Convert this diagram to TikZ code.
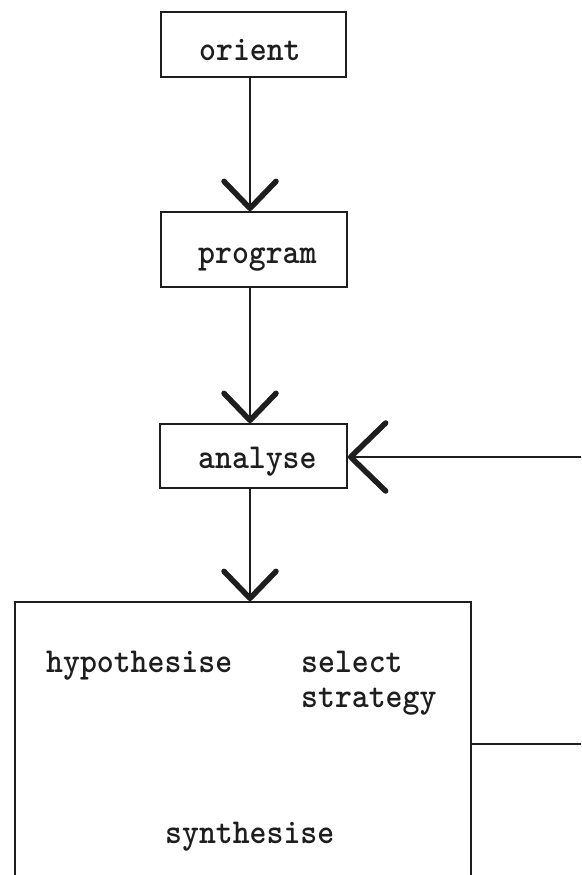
\documentclass[tikz,border=0pt]{standalone}
\usepackage{graphicx}
\usetikzlibrary{arrows.meta}

% typewriter lettering, slightly condensed
\newcommand{\tw}[1]{{\fontsize{35}{42}\selectfont\ttfamily\bfseries\scalebox{0.92}[1]{#1}}}

\definecolor{ink}{HTML}{1E1E1E}
\tikzset{
  stepbox/.style={draw=ink, line width=1.8pt, rectangle, inner sep=0pt},
  caption/.style={anchor=base west, inner sep=0pt, text=ink},
  flow/.style={draw=ink, line width=1.6pt,
    -{Straight Barb[length=27pt, width=52pt, line width=5.5pt, round]}},
  bigflow/.style={draw=ink, line width=1.6pt,
    -{Straight Barb[length=35pt, width=68pt, line width=5.5pt, round]}},
  plain/.style={draw=ink, line width=1.6pt},
}

\begin{document}
\begin{tikzpicture}[x=1pt, y=-1pt]
  \useasboundingbox (0,0) rectangle (581,875);
  \clip (0,0) rectangle (581,875);

  % process boxes
  \node[stepbox, minimum width=185pt, minimum height=65pt] (orient) at (253.5,44.5) {};
  \node[stepbox, minimum width=186pt, minimum height=75pt] (program) at (254,249.5) {};
  \node[stepbox, minimum width=187pt, minimum height=64pt] (analyse) at (253.5,456) {};
  \node[stepbox, minimum width=456pt, minimum height=320pt] (work) at (243,762) {};

  % box labels
  \node[caption] (torient) at (199,60) {\tw{orient}};
  \node[caption] (tprogram) at (198,263) {\tw{program}};
  \node[caption] (tanalyse) at (198,468) {\tw{analyse}};
  \node[caption] (thypo) at (46,672) {\tw{hypothesise}};
  \node[caption] (tselect) at (301,672) {\tw{select}};
  \node[caption] (tstrat) at (301,707) {\tw{strategy}};
  \node[caption] (tsynth) at (165,843) {\tw{synthesise}};

  % main flow
  \coordinate (stem) at (250,0);
  \draw[flow] (orient.south -| stem) -- (program.north -| stem);
  \draw[flow] (program.south -| stem) -- (analyse.north -| stem);
  \draw[flow] (analyse.south -| stem) -- (work.north -| stem);

  % feedback loop ends
  \coordinate (fbout) at (581,744);
  \coordinate (fbin) at (581,457);
  \draw[plain] (work.east |- fbout) -- (fbout);
  \draw[bigflow] (fbin) -- (analyse.east |- fbin);
\end{tikzpicture}
\end{document}
